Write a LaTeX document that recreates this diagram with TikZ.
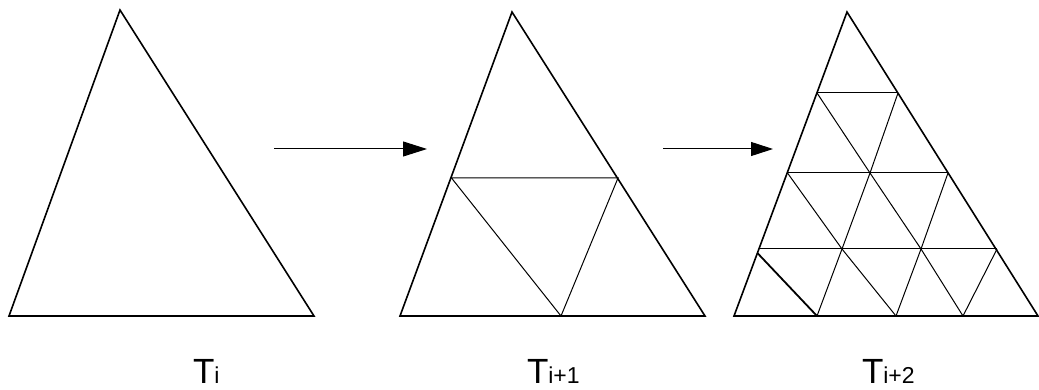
\documentclass[tikz,border=0pt]{standalone}
\usepackage{fontspec}
\setmainfont{Liberation Sans}
\usetikzlibrary{arrows.meta}
\tikzset{
  outer/.style={line width=1.6pt, line join=miter},
  inner/.style={line width=1pt},
  thickedge/.style={line width=1.8pt},
  flow/.style={line width=1pt, -{Triangle[length=24pt,width=15pt]}},
  lab/.style={anchor=base west, inner sep=0pt, outer sep=0pt}
}
\newcommand{\biglab}[1]{{\fontsize{35}{35}\selectfont T}{\fontsize{23}{23}\selectfont #1}}
\begin{document}
\begin{tikzpicture}[x=1pt,y=-1pt]
\useasboundingbox (0,0) rectangle (1039,390);
% triangle 1
\coordinate (A1) at (120,10);
\coordinate (B1) at (9,316);
\coordinate (C1) at (314,316);
\draw[outer] (A1) -- (B1) -- (C1) -- cycle;
% triangle 2
\coordinate (A2) at (512,12);
\coordinate (B2) at (400,316);
\coordinate (C2) at (705,316);
\coordinate (P2) at (451.5,178);
\coordinate (Q2) at (618,178);
\coordinate (R2) at (561,316);
\draw[inner] (P2) -- (Q2) -- (R2) -- cycle;
\draw[outer] (A2) -- (B2) -- (C2) -- cycle;
% triangle 3
\coordinate (A3) at (847,12);
\coordinate (B3) at (734,316);
\coordinate (C3) at (1038,316);
\coordinate (L1) at (817,93);
\coordinate (R1) at (898,93);
\coordinate (L2) at (787.5,173);
\coordinate (M2) at (870,173);
\coordinate (R2b) at (948,173);
\coordinate (L3) at (759,249);
\coordinate (M3a) at (842,249);
\coordinate (M3b) at (921,249);
\coordinate (R3) at (997,249);
\coordinate (S1) at (817,316);
\coordinate (S2) at (896,316);
\coordinate (S3) at (963,316);
\coordinate (K) at (757.4,253);
\draw[inner] (L1) -- (R1);
\draw[inner] (L2) -- (R2b);
\draw[inner] (L3) -- (R3);
\draw[inner] (L1) -- (M2) -- (M3b) -- (S3);
\draw[inner] (L2) -- (M3a) -- (S2);
\draw[inner] (R1) -- (M2) -- (M3a) -- (S1);
\draw[inner] (R2b) -- (M3b) -- (S2);
\draw[inner] (R3) -- (S3);
\draw[thickedge] (K) -- (S1);
\draw[outer] (A3) -- (B3) -- (C3) -- cycle;
% arrows
\coordinate (a1s) at (274,149);
\coordinate (a1e) at (427,149);
\coordinate (a2s) at (663,149);
\coordinate (a2e) at (773,149);
\draw[flow] (a1s) -- (a1e);
\draw[flow, -{Triangle[length=22pt,width=14pt]}] (a2s) -- (a2e);
% labels
\node[lab] (t0) at (193,383) {\biglab{i}};
\node[lab] (t1) at (527,383) {\biglab{i+1}};
\node[lab] (t2) at (862,383) {\biglab{i+2}};
\end{tikzpicture}
\end{document}
